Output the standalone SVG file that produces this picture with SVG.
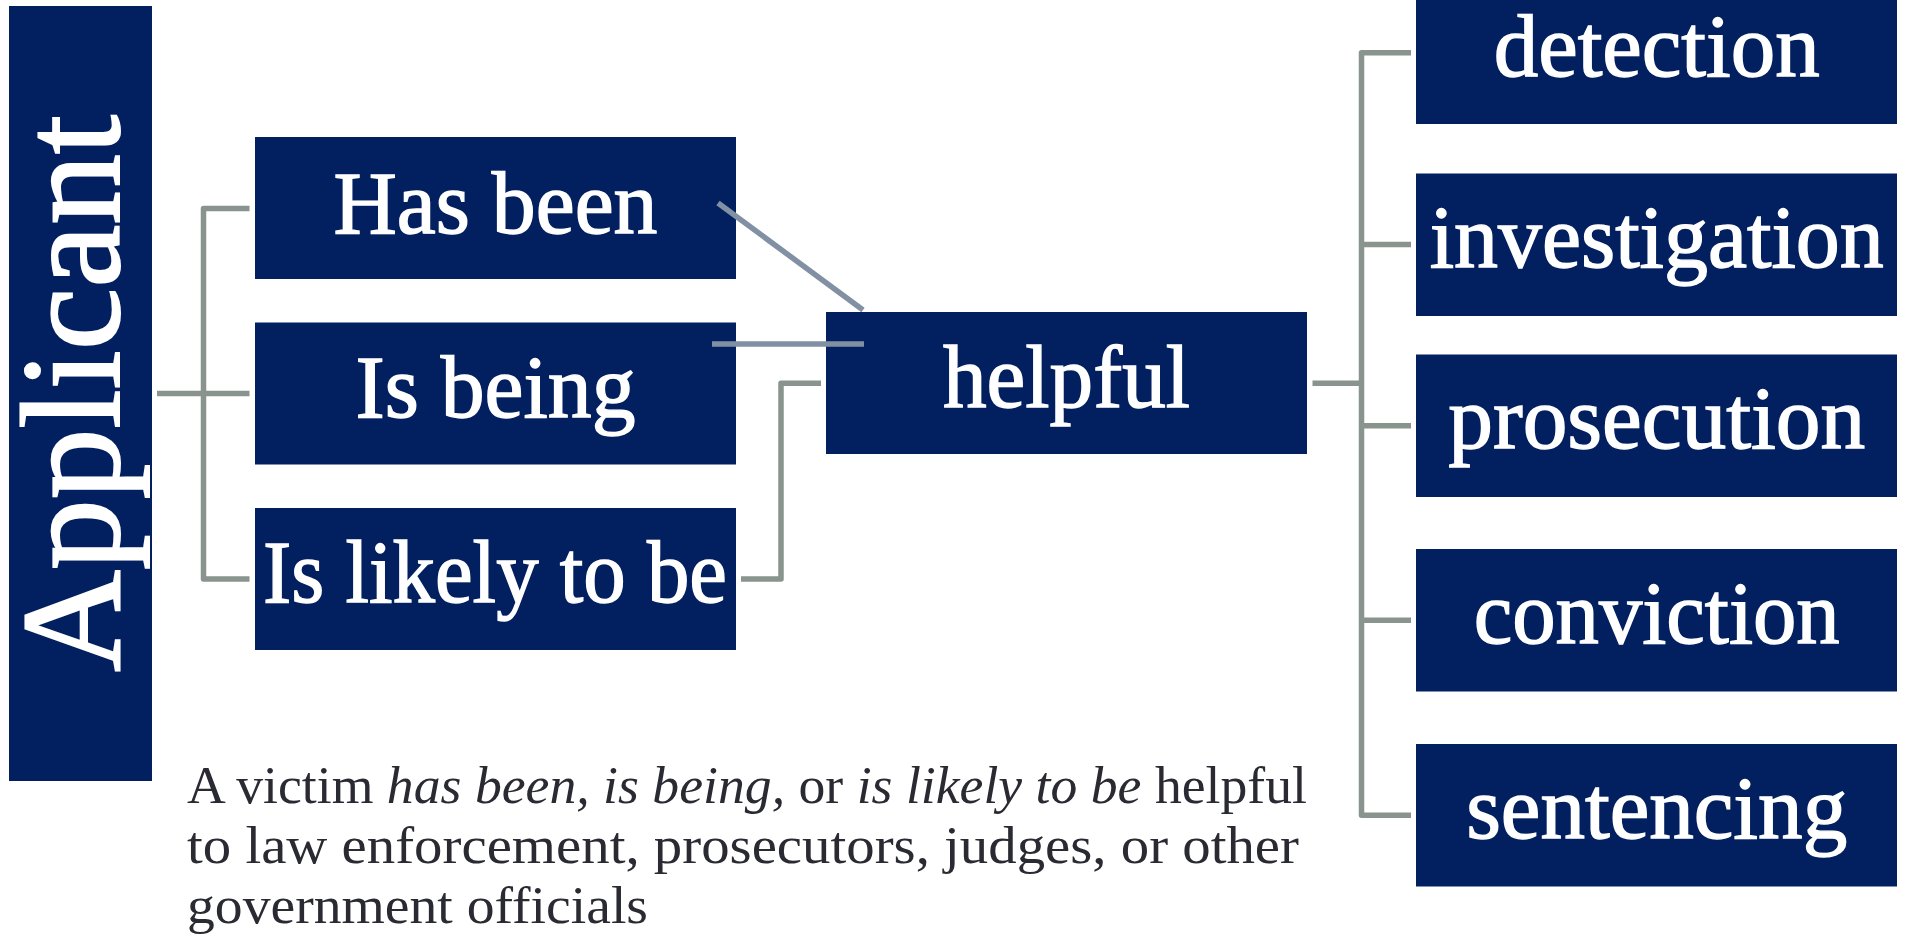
<svg xmlns="http://www.w3.org/2000/svg" width="1907" height="941" viewBox="0 0 1907 941">
<style>
.box{fill:#022060;}
.lbl{font-family:"Liberation Serif","Times New Roman",serif;fill:#ffffff;stroke:#ffffff;stroke-width:1.4;text-anchor:middle;}
.big{font-size:88px;}
.cg{fill:none;stroke:#89948e;stroke-width:5.5;stroke-linejoin:round;}
.cb{fill:none;stroke:#8290a3;stroke-width:5.5;}
.note{font-family:"Liberation Serif","Times New Roman",serif;font-size:53px;fill:#2a2a33;}
</style>
<rect width="1907" height="941" fill="#ffffff"/>
<g id="applicant">
<rect class="box" x="9" y="6" width="143" height="775"/>
<text class="lbl" font-size="141" style="stroke-width:2" x="119" y="393.5" transform="rotate(-90 119 393.5)" textLength="557" lengthAdjust="spacingAndGlyphs">Applicant</text>
</g>
<g id="has-been">
<rect class="box" x="255" y="137" width="481" height="142"/>
<text class="lbl big" x="495.5" y="233" textLength="324" lengthAdjust="spacingAndGlyphs">Has been</text>
</g>
<g id="is-being">
<rect class="box" x="255" y="322.5" width="481" height="142"/>
<text class="lbl big" x="495.5" y="416.5" textLength="280" lengthAdjust="spacingAndGlyphs">Is being</text>
</g>
<g id="is-likely">
<rect class="box" x="255" y="508" width="481" height="142"/>
<text class="lbl big" x="495" y="602" textLength="464" lengthAdjust="spacingAndGlyphs">Is likely to be</text>
</g>
<g id="helpful">
<rect class="box" x="826" y="312" width="481" height="142"/>
<text class="lbl big" x="1066.5" y="406.7" textLength="247" lengthAdjust="spacingAndGlyphs">helpful</text>
</g>
<g id="detection">
<rect class="box" x="1416" y="-18.5" width="481" height="142.5"/>
<text class="lbl big" x="1656.7" y="76" textLength="326" lengthAdjust="spacingAndGlyphs">detection</text>
</g>
<g id="investigation">
<rect class="box" x="1416" y="173.5" width="481" height="142.5"/>
<text class="lbl big" x="1656.7" y="266.7" textLength="454" lengthAdjust="spacingAndGlyphs">investigation</text>
</g>
<g id="prosecution">
<rect class="box" x="1416" y="354.5" width="481" height="142.5"/>
<text class="lbl big" x="1656.7" y="448.3" textLength="417" lengthAdjust="spacingAndGlyphs">prosecution</text>
</g>
<g id="conviction">
<rect class="box" x="1416" y="549" width="481" height="142.5"/>
<text class="lbl big" x="1656.7" y="643.3" textLength="366" lengthAdjust="spacingAndGlyphs">conviction</text>
</g>
<g id="sentencing">
<rect class="box" x="1416" y="744" width="481" height="142.5"/>
<text class="lbl big" x="1656.7" y="838.3" textLength="381" lengthAdjust="spacingAndGlyphs">sentencing</text>
</g>
<g id="connectors">
<path class="cg" d="M157,393.5 H249.5 M249.5,208.5 H203.5 V579 H249.5"/>
<path class="cb" d="M718,203 L863,310"/>
<path class="cb" d="M712,344 H864"/>
<path class="cg" d="M741,579 H781 V383.3 H821"/>
<path class="cg" d="M1312.5,383.3 H1361.5 M1411,52.7 H1361.5 V815.3 H1411 M1361.5,244.6 H1411 M1361.5,425.8 H1411 M1361.5,620.3 H1411"/>
</g>
<g id="note">
<text class="note" x="187" y="803" textLength="1120" lengthAdjust="spacingAndGlyphs">A victim <tspan font-style="italic">has been, is being,</tspan> or <tspan font-style="italic">is likely to be</tspan> helpful</text>
<text class="note" x="187" y="863" textLength="1112" lengthAdjust="spacingAndGlyphs">to law enforcement, prosecutors, judges, or other</text>
<text class="note" x="187" y="923" textLength="461" lengthAdjust="spacingAndGlyphs">government officials</text>
</g>
</svg>
